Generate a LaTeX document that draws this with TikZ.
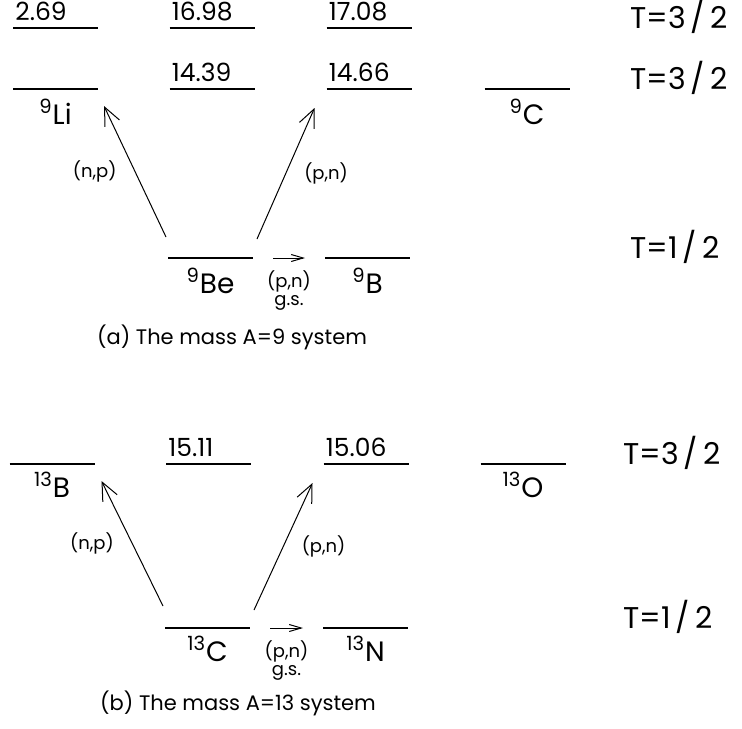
\documentclass[tikz,border=0pt]{standalone}
\usepackage{fontspec}
\setmainfont{Poppins}
\usepackage{tikz}
\usetikzlibrary{arrows.meta, positioning}

\tikzset{
  level/.style={minimum width=42.5pt, minimum height=0pt, inner sep=0pt, outer sep=0pt},
  levelline/.style={line width=0.6pt},
  value/.style={anchor=south west, inner sep=1pt, yshift=2.5pt, font=\fontsize{12.5}{14}\selectfont},
  nuc/.style={inner sep=1pt, font=\fontsize{14}{16}\selectfont},
  iso/.style={anchor=base west, inner sep=0pt, font=\fontsize{15}{17}\selectfont},
  react/.style={inner sep=1pt, font=\fontsize{9}{10}\selectfont},
  trans/.style={line width=0.5pt, -{Straight Barb[length=9pt, width=8pt]}},
  gsarrow/.style={line width=0.5pt, -{Straight Barb[length=6pt, width=3.5pt]}},
  caption/.style={inner sep=0pt, font=\fontsize{10.5}{12}\selectfont}
}

\begin{document}
\begin{tikzpicture}[x=0.5pt, y=-0.5pt]
  \useasboundingbox (0,0) rectangle (742,728);

  % (a) mass A=9: levels at (centre x, y)
  \node[level] (li9x) at (55.5,28)  {};
  \node[level] (be9b) at (212,28)   {};
  \node[level] (b9b)  at (369,28)   {};
  \node[level] (li9)  at (55.5,89)  {};
  \node[level] (be9a) at (212,89)   {};
  \node[level] (b9a)  at (369,89)   {};
  \node[level] (c9)   at (527,89)   {};
  \node[level] (be9)  at (210.5,258) {};
  \node[level] (b9)   at (367.5,258) {};

  % (b) mass A=13
  \node[level] (b13)  at (52,464)   {};
  \node[level] (c13x) at (208.5,464) {};
  \node[level] (n13x) at (366,464)  {};
  \node[level] (o13)  at (523,464)  {};
  \node[level] (c13)  at (207.5,628) {};
  \node[level] (n13)  at (365.5,628) {};

  \foreach \lv in {li9x,be9b,b9b,li9,be9a,b9a,c9,be9,b9,b13,c13x,n13x,o13,c13,n13}
    \draw[levelline] (\lv.west) -- (\lv.east);

  % excitation energies
  \node[value] (e269)  at (li9x.west) {2.69};
  \node[value] (e1698) at (be9b.west) {16.98};
  \node[value] (e1708) at (b9b.west)  {17.08};
  \node[value] (e1439) at (be9a.west) {14.39};
  \node[value] (e1466) at (b9a.west)  {14.66};
  \node[value] (e1511) at (c13x.west) {15.11};
  \node[value] (e1506) at (n13x.west) {15.06};

  % nuclide names
  \node[nuc, below=4pt of li9] (nli9) {\textsuperscript{9}Li};
  \node[nuc, below=4pt of c9]  (nc9)  {\textsuperscript{9}C};
  \node[nuc, below=4pt of be9] (nbe9) {\textsuperscript{9}Be};
  \node[nuc, below=4pt of b9]  (nb9)  {\textsuperscript{9}B};
  \node[nuc, below=3pt of b13] (nb13) {\textsuperscript{13}B};
  \node[nuc, below=3pt of o13] (no13) {\textsuperscript{13}O};
  \node[nuc, below=3pt of c13] (nc13) {\textsuperscript{13}C};
  \node[nuc, below=3pt of n13] (nn13) {\textsuperscript{13}N};

  % isospin
  \node[iso] (ta1) at (630,28)  {T=3\,/\,2};
  \node[iso] (ta2) at (630,89)  {T=3\,/\,2};
  \node[iso] (ta3) at (630,258) {T=1\,/\,2};
  \node[iso] (tb1) at (623,464) {T=3\,/\,2};
  \node[iso] (tb2) at (623,628) {T=1\,/\,2};

  % transitions
  \draw[trans] ([shift={(-2,-21)}]be9.west) -- ([shift={(6,17)}]li9.east)
    node[react, midway, left=8pt] {(n,p)};
  \draw[trans] ([shift={(4,-19)}]be9.east) -- ([shift={(-12,19)}]b9a.west)
    node[react, midway, right=8pt] {(p,n)};
  \draw[gsarrow] ([xshift=10pt]be9.east) -- ([xshift=-10pt]b9.west)
    node[react, midway, below=5pt, align=center] {(p,n)\\[-1pt]g.s.};

  \draw[trans] ([shift={(-2,-22)}]c13.west) -- ([shift={(7,17)}]b13.east)
    node[react, midway, left=8pt] {(n,p)};
  \draw[trans] ([shift={(4,-18)}]c13.east) -- ([shift={(-11,19)}]n13x.west)
    node[react, midway, right=8pt] {(p,n)};
  \draw[gsarrow] ([xshift=10pt]c13.east) -- ([xshift=-10pt]n13.west)
    node[react, midway, below=5pt, align=center] {(p,n)\\[-1pt]g.s.};

  % captions
  \node[caption] (capa) at (232,337) {(a) The mass A=9 system};
  \node[caption] (capb) at (238,703) {(b) The mass A=13 system};
\end{tikzpicture}
\end{document}
